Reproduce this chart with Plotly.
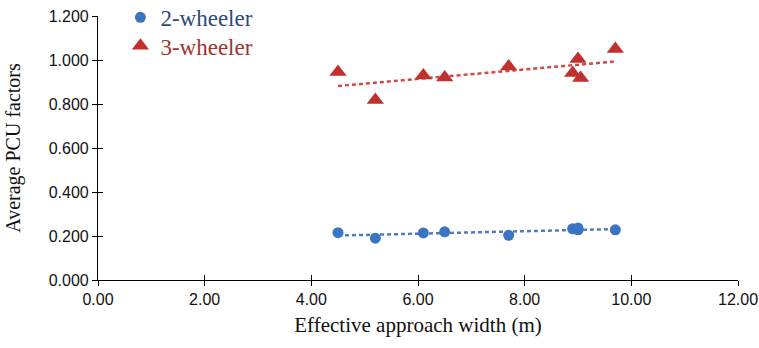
import numpy as np
import plotly.graph_objects as go

# Effective approach width (m) of the surveyed approaches
width_2w = [4.5, 5.2, 6.1, 6.5, 7.7, 8.9, 9.0, 9.0, 9.7]
pcu_2w = [0.215, 0.190, 0.214, 0.219, 0.203, 0.233, 0.236, 0.228, 0.228]

width_3w = [4.5, 5.2, 6.1, 6.5, 7.7, 8.9, 9.0, 9.05, 9.7]
pcu_3w = [0.945, 0.818, 0.930, 0.921, 0.970, 0.941, 1.005, 0.918, 1.050]

x_ticks = [0, 2, 4, 6, 8, 10, 12]
y_ticks = [0.0, 0.2, 0.4, 0.6, 0.8, 1.0, 1.2]

BLUE_MK = "#3B74C2"
RED_MK = "#C2302E"
BLUE_LN = "#4A7CC8"
RED_LN = "#D24A48"
BLUE_TXT = "#2F4B7C"
RED_TXT = "#A3332F"


def trend(xs, ys):
    k, b = np.polyfit(xs, ys, 1)
    xe = np.array([min(xs), max(xs)])
    return xe, k * xe + b


fig = go.Figure()

# linear trend lines
for xs, ys, col in [(width_2w, pcu_2w, BLUE_LN), (width_3w, pcu_3w, RED_LN)]:
    tx, ty = trend(xs, ys)
    fig.add_trace(go.Scatter(x=tx, y=ty, mode="lines", showlegend=False,
                             line=dict(color=col, width=2.5, dash="4px,3px"),
                             hoverinfo="skip"))

fig.add_trace(go.Scatter(
    x=width_2w, y=pcu_2w, mode="markers", legend="legend",
    name=f'<span style="color:{BLUE_TXT}">2-wheeler</span>',
    marker=dict(symbol="circle", size=11, color=BLUE_MK)))
fig.add_trace(go.Scatter(
    x=width_3w, y=pcu_3w, mode="markers", legend="legend2",
    name=f'<span style="color:{RED_TXT}">3-wheeler</span>',
    marker=dict(symbol="triangle-up", size=15, color=RED_MK)))

tick_font = dict(family="Liberation Sans", size=16, color="#111111")

axis_common = dict(showgrid=False, zeroline=False, showline=True,
                   linecolor="black", linewidth=1.2, tickcolor="black",
                   ticklen=5, tickwidth=1.2)

legend_common = dict(x=0.035, xanchor="left", yanchor="middle",
                     bgcolor="rgba(0,0,0,0)",
                     font=dict(family="Liberation Serif", size=23),
                     itemwidth=30)

fig.update_layout(
    width=759, height=348,
    margin=dict(l=98, r=21, t=16, b=68, autoexpand=False),
    plot_bgcolor="white", paper_bgcolor="white",
    xaxis=dict(range=[0, 12], tickvals=x_ticks,
               ticktext=[f"{v:.2f}" for v in x_ticks],
               ticks="outside", tickfont=tick_font,
               title=dict(text="Effective approach width (m)",
                          font=dict(family="Liberation Serif", size=21,
                                    color="#111111"),
                          standoff=10),
               **axis_common),
    yaxis=dict(range=[0, 1.2], tickvals=y_ticks,
               ticktext=[f"{v:.3f}" for v in y_ticks],
               ticks="outside", tickfont=tick_font,
               title=dict(text="Average PCU factors",
                          font=dict(family="Liberation Serif", size=20,
                                    color="#111111"),
                          standoff=22),
               **axis_common),
    # inner half of the crossing tick marks
    xaxis2=dict(range=[0, 12], tickvals=x_ticks, overlaying="x",
                ticks="inside", showticklabels=False, **axis_common),
    yaxis2=dict(range=[0, 1.2], tickvals=y_ticks, overlaying="y",
                ticks="inside", showticklabels=False, **axis_common),
    legend=dict(y=0.995, **legend_common),
    legend2=dict(y=0.887, **legend_common),
)

# dummy trace to anchor the overlay axes
fig.add_trace(go.Scatter(x=[None], y=[None], xaxis="x2", yaxis="y2",
                         showlegend=False, hoverinfo="skip"))

fig.write_html("out.html")
